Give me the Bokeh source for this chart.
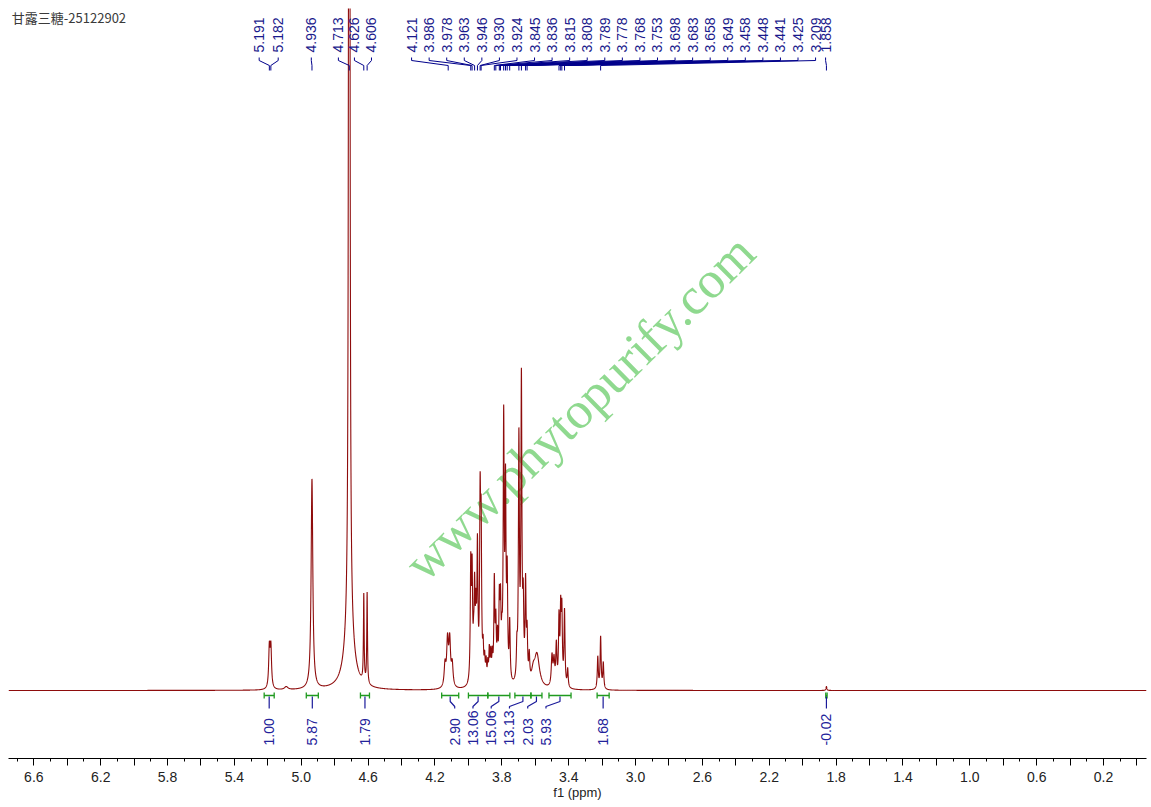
import numpy as np
from bokeh.plotting import figure
from bokeh.models import Range1d, FixedTicker, CustomJSTickFormatter
from bokeh.core.properties import value
from bokeh.embed import file_html
from bokeh.resources import INLINE

# ---------------- data ----------------
title_text = "甘露三糖-25122902"
watermark_text = "www.phytopurify.com"

# spectral lines: position (ppm), height (arb.), half width (ppm)
line_ppm = [5.191, 5.182, 5.090, 4.936, 4.713, 4.713, 4.626, 4.606,
            4.140, 4.125, 4.112, 4.097,
            3.986, 3.978, 3.969, 3.963, 3.955, 3.946, 3.930, 3.924,
            3.912, 3.903, 3.894, 3.884, 3.875, 3.866, 3.857,
            3.845, 3.836, 3.826, 3.815, 3.808, 3.800,
            3.789, 3.778, 3.768, 3.753,
            3.710, 3.698, 3.683, 3.672, 3.658, 3.649, 3.636,
            3.612, 3.590,
            3.500, 3.488, 3.474, 3.458, 3.448, 3.441, 3.425, 3.406,
            3.226, 3.209, 3.193, 1.858]
line_height = [40, 40, 3, 210, 3000, 60, 87, 91,
               22, 45, 45, 22,
               115, 105, 25, 85, 60, 130, 170, 140,
               30, 22, 20, 18, 32, 28, 25,
               100, 55, 40, 75, 70, 30,
               256, 186, 100, 58,
               30, 240, 298, 70, 95, 45, 25,
               12, 33,
               30, 25, 40, 65, 70, 70, 75, 18,
               32, 52, 26, 4]
line_hw = [0.0048, 0.0048, 0.012, 0.006, 0.0025, 0.03, 0.0025, 0.0025,
           0.006, 0.006, 0.006, 0.006,
           0.0035, 0.0035, 0.0035, 0.0035, 0.0035, 0.0035, 0.0035, 0.0035,
           0.0035, 0.0035, 0.0035, 0.0035, 0.0035, 0.0035, 0.0035,
           0.0035, 0.0035, 0.0035, 0.0035, 0.0035, 0.0035,
           0.0035, 0.0035, 0.0035, 0.0035,
           0.0035, 0.0035, 0.0035, 0.0035, 0.0035, 0.0035, 0.0035,
           0.012, 0.018,
           0.005, 0.005, 0.004, 0.0035, 0.0035, 0.0035, 0.0035, 0.0035,
           0.0035, 0.0035, 0.0035, 0.003]

# peak picking labels
peak_values = [5.191, 5.182, 4.936, 4.713, 4.626, 4.606,
               4.121, 3.986, 3.978, 3.963, 3.946, 3.930, 3.924, 3.845,
               3.836, 3.815, 3.808, 3.789, 3.778, 3.768, 3.753, 3.698,
               3.683, 3.658, 3.649, 3.458, 3.448, 3.441, 3.425, 3.209,
               1.858]

# integrals
int_start = [5.222, 4.970, 4.646, 4.160, 4.000, 3.884, 3.722, 3.626, 3.518, 3.230, 1.862]
int_end = [5.162, 4.898, 4.592, 4.058, 3.884, 3.752, 3.626, 3.560, 3.386, 3.158, 1.854]
int_values = ["1.00", "5.87", "1.79", "2.90", "13.06", "15.06", "13.13", "2.03", "5.93", "1.68", "-0.02"]

# axis ticks
major_ticks = [round(i * 0.2, 1) for i in range(0, 35)]
minor_ticks = [round(i * 0.1, 1) for i in range(0, 69)]

# ---------------- layout ----------------
X_LEFT, X_RIGHT = 6.7517, -0.0570
Y_BOTTOM, Y_TOP = -68, 682

# label layout (ppm positions of label text)
peak_label_pos = [5.252, 5.138, 4.940, 4.778, 4.682, 4.580] + \
    list(np.linspace(4.340, 1.923, 24)) + [1.863]
int_centers = [(a + b) / 2 for a, b in zip(int_start, int_end)]
int_label_pos = int_centers[:3] + list(np.linspace(4.082, 3.536, 6)) + int_centers[9:]

# ---------------- spectrum ----------------
grid = np.arange(X_RIGHT, X_LEFT, 0.0004)
grid = np.sort(np.concatenate([grid, np.array(line_ppm)]))
spec = np.zeros_like(grid)
for c, h, w in zip(line_ppm, line_height, line_hw):
    spec += h / (1.0 + ((grid - c) / w) ** 2)

p = figure(width=1150, height=806, output_backend="svg", toolbar_location=None,
           x_range=Range1d(X_LEFT, X_RIGHT), y_range=Range1d(Y_BOTTOM, Y_TOP),
           y_axis_type=None, min_border_left=8, min_border_right=4,
           min_border_top=8, min_border_bottom=48)
p.outline_line_color = None
p.xgrid.visible = False
p.background_fill_color = "white"

# watermark
p.text(x=[3.335], y=[283], text=[watermark_text], angle=0.778,
       text_align="center", text_baseline="middle",
       text_font=value("Liberation Serif"), text_font_size="52px",
       text_color="#8fd98f")

# spectrum
p.line(grid, spec, line_color="#8e0c0c", line_width=1.1)

# title
p.text(x=[X_LEFT - 0.02], y=[673], text=[title_text], text_align="left",
       text_baseline="middle", text_font=value("Noto Sans CJK SC"),
       text_font_size="13px", text_color="#3a3a3a")

# peak labels
navy = "#1a1a8c"
p.text(x=peak_label_pos, y=[638] * len(peak_values),
       text=["%.3f" % v for v in peak_values], angle=np.pi / 2,
       text_align="left", text_baseline="middle",
       text_font=value("Liberation Sans"), text_font_size="14px", text_color=navy)
p.multi_line(xs=[[lp, lp, pv, pv] for lp, pv in zip(peak_label_pos, peak_values)],
             ys=[[633, 630, 625, 620]] * len(peak_values),
             line_color="#00008b", line_width=1)

# integrals
green = "#1f9a1f"
p.segment(x0=int_start, y0=[-5] * len(int_start), x1=int_end, y1=[-5] * len(int_start),
          line_color=green, line_width=1.3)
p.segment(x0=int_start, y0=[-2] * len(int_start), x1=int_start, y1=[-8] * len(int_start),
          line_color=green, line_width=1.3)
p.segment(x0=int_end, y0=[-2] * len(int_end), x1=int_end, y1=[-8] * len(int_end),
          line_color=green, line_width=1.3)
p.multi_line(xs=[[c, c, lp, lp] for c, lp in zip(int_centers, int_label_pos)],
             ys=[[-6, -11, -16, -18]] * len(int_centers),
             line_color="#1a1a9a", line_width=1.2)
p.text(x=int_label_pos, y=[-55] * len(int_values), text=int_values, angle=np.pi / 2,
       text_align="left", text_baseline="middle",
       text_font=value("Liberation Sans"), text_font_size="14px", text_color="#22229a")

# x axis
ax = p.xaxis[0]
ax.ticker = FixedTicker(ticks=major_ticks, minor_ticks=minor_ticks)
ax.formatter = CustomJSTickFormatter(code="""
    const k = Math.round(tick * 10);
    return (k % 4 == 2) ? tick.toFixed(1) : "";
""")
ax.axis_line_color = "black"
ax.major_tick_line_color = "black"
ax.minor_tick_line_color = "black"
ax.major_tick_in = 0
ax.major_tick_out = 7
ax.minor_tick_in = 0
ax.minor_tick_out = 3
ax.major_label_standoff = 6
ax.major_label_text_font = "Liberation Sans"
ax.major_label_text_font_size = "14px"
ax.major_label_text_color = "#222222"
ax.axis_label = "f1 (ppm)"
ax.axis_label_standoff = 0
ax.axis_label_text_font = "Liberation Sans"
ax.axis_label_text_font_size = "13px"
ax.axis_label_text_font_style = "normal"
ax.axis_label_text_color = "#222222"

open("out.html", "w").write(file_html(p, INLINE))
